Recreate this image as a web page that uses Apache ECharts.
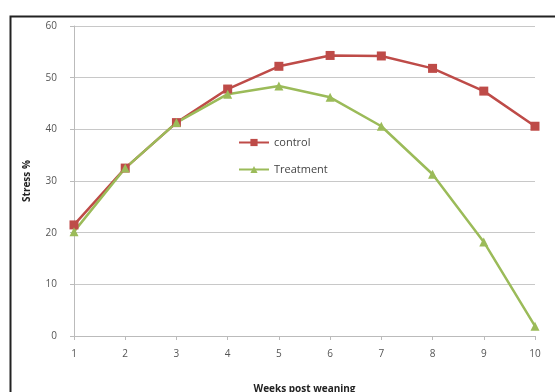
<!DOCTYPE html>
<html><head><meta charset="utf-8">
<script src="https://cdn.jsdelivr.net/npm/echarts@6/dist/echarts.min.js"></script>
<style>html,body{margin:0;padding:0;background:#fff}#c{width:555px;height:392px}</style>
</head><body><div id="c"></div>
<script>
var weeks = ['1','2','3','4','5','6','7','8','9','10'];
var control = [21.5, 32.5, 41.3, 47.8, 52.2, 54.3, 54.2, 51.8, 47.4, 40.6];
var treatment = [20.2, 32.5, 41.3, 46.8, 48.4, 46.2, 40.6, 31.3, 18.2, 1.9];
var yTicks = [0, 10, 20, 30, 40, 50, 60];

var chart = echarts.init(document.getElementById('c'));
chart.setOption({
  animation: false,
  backgroundColor: '#fff',
  graphic: [{
    type: 'rect', left: 8, top: 14, shape: {width: 560, height: 400},
    style: {fill: 'none', stroke: '#222', lineWidth: 2}, z: -1
  }],
  grid: {left: 74, right: 20, top: 26, bottom: 56, outerBoundsMode: 'none', containLabel: false},
  legend: {
    left: 233, top: 132, orient: 'vertical', itemGap: 16,
    itemWidth: 30, itemHeight: 9,
    textStyle: {fontFamily: 'Open Sans', fontSize: 11, color: '#444'},
    data: ['control', 'Treatment']
  },
  xAxis: {
    type: 'category', data: weeks, boundaryGap: false,
    name: 'Weeks post weaning', nameLocation: 'middle', nameGap: 48,
    nameTextStyle: {fontFamily: 'Open Sans', fontSize: 10, fontWeight: 'bold', color: '#222'},
    axisLine: {lineStyle: {color: '#bbb', width: 1}},
    axisTick: {show: true, alignWithLabel: true, length: 4, lineStyle: {color: '#bbb'}},
    axisLabel: {fontFamily: 'Open Sans', fontSize: 10, color: '#555', margin: 13},
    splitLine: {show: false}
  },
  yAxis: {
    type: 'value', min: 0, max: 60, interval: 10,
    name: 'Stress %', nameLocation: 'middle', nameGap: 42, nameRotate: 90,
    nameTextStyle: {fontFamily: 'Open Sans', fontSize: 10, fontWeight: 'bold', color: '#222'},
    axisLine: {show: true, lineStyle: {color: '#bbb', width: 1}},
    axisTick: {show: true, length: 4, lineStyle: {color: '#bbb'}},
    axisLabel: {fontFamily: 'Open Sans', fontSize: 10, color: '#555', margin: 17,
      formatter: function (v) { return yTicks.indexOf(v) >= 0 ? String(v) : ''; }},
    splitLine: {lineStyle: {color: '#c8c8c8', width: 1}}
  },
  series: [{
    name: 'control', type: 'line', data: control,
    symbol: 'rect', symbolSize: 9,
    lineStyle: {color: '#be4b48', width: 2.5},
    itemStyle: {color: '#be4b48'}
  }, {
    name: 'Treatment', type: 'line', data: treatment,
    symbol: 'triangle', symbolSize: 9,
    lineStyle: {color: '#9bbb59', width: 2.5},
    itemStyle: {color: '#9bbb59'}
  }]
});
</script></body></html>
